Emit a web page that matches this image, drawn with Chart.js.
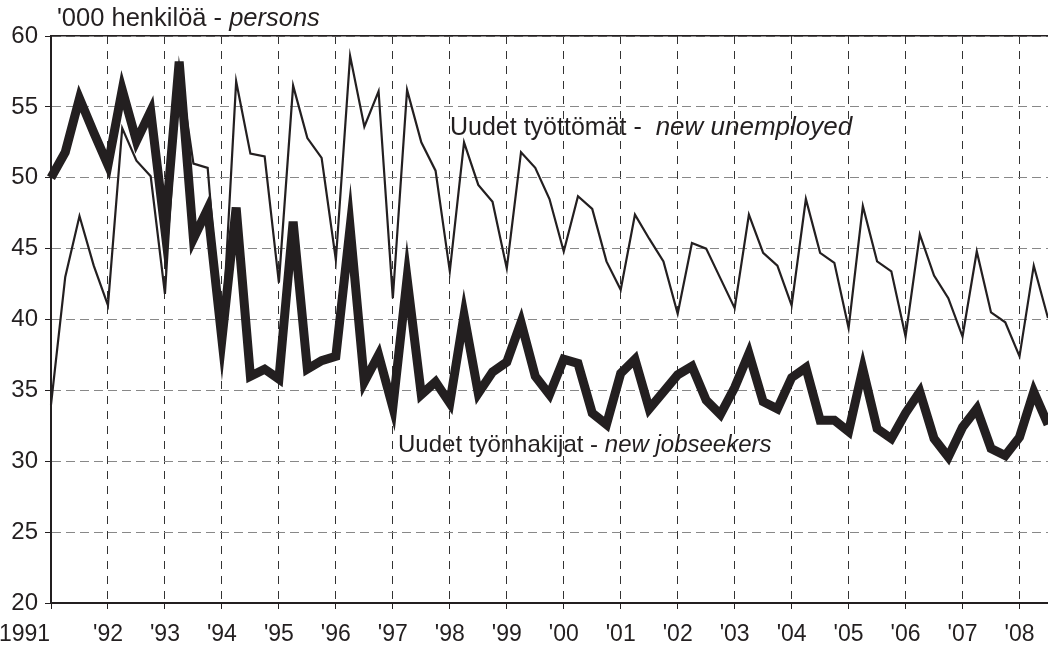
<!DOCTYPE html>
<html>
<head>
<meta charset="utf-8">
<script src="https://cdn.jsdelivr.net/npm/chart.js@4/dist/chart.umd.min.js"></script>
<style>
html,body{margin:0;padding:0;background:#fff;}
#wrap{width:1048px;height:646px;}
</style>
</head>
<body>
<div id="wrap"><canvas id="kuva" width="1048" height="646"></canvas></div>
<script>
// neljännesvuosittain, 1991 Q1 - 2008 Q3
const startYear = 1991;
const years = [1991,1992,1993,1994,1995,1996,1997,1998,1999,2000,2001,2002,2003,2004,2005,2006,2007,2008];
const tickLabels = ["1991","'92","'93","'94","'95","'96","'97","'98","'99","'00","'01","'02","'03","'04","'05","'06","'07","'08"];

const uudetTyottomat = [
34.0,43.0,47.3,43.8, 41.0,53.5,51.2,50.1, 41.8,57.9,51.0,50.7, 38.5,56.8,51.7,51.5,
42.6,56.5,52.8,51.4, 44.2,58.6,53.6,56.1, 41.5,56.2,52.5,50.5, 43.4,52.5,49.5,48.3,
43.6,51.8,50.7,48.5, 44.8,48.7,47.8,44.1, 42.1,47.4,45.7,44.1, 40.4,45.4,45.0,42.9,
40.8,47.4,44.7,43.8, 41.0,48.5,44.7,44.0, 39.4,48.0,44.1,43.4, 38.8,46.0,43.1,41.5,
38.8,44.8,40.5,39.8, 37.4,43.8,40.1
];
const uudetTyonhakijat = [
50.0,51.8,55.6,53.2, 50.9,56.2,52.6,54.7, 46.3,58.2,45.7,47.8, 38.6,47.9,36.0,36.5,
35.8,46.9,36.5,37.1, 37.4,46.5,35.6,37.5, 33.8,42.9,34.7,35.6, 34.1,40.3,34.8,36.3,
37.0,39.8,36.0,34.7, 37.2,36.9,33.4,32.6, 36.2,37.2,33.7,34.9, 36.1,36.7,34.3,33.3,
35.2,37.6,34.2,33.7, 35.9,36.6,32.9,32.9, 32.1,36.5,32.3,31.6, 33.4,34.9,31.6,30.3,
32.4,33.7,30.9,30.4, 31.7,34.9,32.6
];

const musta = "#231f20";
const fontti = "'Liberation Sans', Arial, sans-serif";
const pts = arr => arr.map((v,i)=>({x:startYear+i/4, y:v}));
const xMax = startYear + (uudetTyottomat.length-1)/4;

// tekstit: otsikko, sarjojen nimet ja vuosiluvut
const tekstit = {
  id:"tekstit",
  afterDraw(chart){
    const ctx = chart.ctx, x = chart.scales.x;
    ctx.save();
    ctx.fillStyle = musta;
    ctx.textBaseline = "middle";
    const rivi = (px, py, osat) => {
      osat.forEach(([t, kursiivi, koko]) => {
        ctx.font = (kursiivi ? "italic " : "") + koko + "px " + fontti;
        ctx.textAlign = "left";
        ctx.fillText(t, px, py);
        px += ctx.measureText(t).width;
      });
    };
    rivi(57, 19, [["'000 henkilöä - ", false, 25.5], ["persons", true, 25.5]]);
    rivi(450, 128, [["Uudet työttömät -  ", false, 25], ["new unemployed", true, 26]]);
    rivi(398, 445, [["Uudet työnhakijat - ", false, 24], ["new jobseekers", true, 24]]);

    ctx.font = "23px " + fontti;
    years.forEach((yr, i) => {
      if (i === 0) { ctx.textAlign = "left"; ctx.fillText(tickLabels[i], -1, 635); return; }
      ctx.textAlign = "center";
      ctx.fillText(tickLabels[i], x.getPixelForValue(yr), 635);
    });
    ctx.restore();
  }
};

new Chart(document.getElementById("kuva"), {
  type:"line",
  data:{
    datasets:[
      {label:"Uudet työnhakijat", data:pts(uudetTyonhakijat), borderColor:musta, borderWidth:9,
       pointRadius:0, tension:0, borderJoinStyle:"miter", clip:false},
      {label:"Uudet työttömät", data:pts(uudetTyottomat), borderColor:musta, borderWidth:2.2,
       pointRadius:0, tension:0, borderJoinStyle:"miter", clip:false}
    ]
  },
  options:{
    responsive:false,
    animation:false,
    devicePixelRatio:1,
    layout:{padding:{top:36, right:0, bottom:0, left:0}},
    plugins:{legend:{display:false}, tooltip:{enabled:false}},
    scales:{
      x:{
        type:"linear", position:"bottom", min:startYear, max:xMax,
        afterFit(s){ s.height = 43; },
        ticks:{stepSize:1, includeBounds:false, display:false},
        grid:{color:"#333", lineWidth:1, tickLength:6, tickColor:musta},
        border:{color:musta, width:2, dash:[8,7]}
      },
      x2:{
        type:"linear", position:"top", min:startYear, max:xMax,
        afterFit(s){ s.height = 0; },
        ticks:{display:false},
        grid:{display:false},
        border:{color:musta, width:1.5}
      },
      y:{
        min:20, max:60,
        afterFit(s){ s.width = 51; },
        ticks:{stepSize:5, color:musta, padding:7, font:{family:fontti, size:24}},
        grid:{color:"#888", lineWidth:1, tickLength:6, tickColor:musta},
        border:{color:musta, width:2, dash:[9,5]}
      }
    }
  },
  plugins:[tekstit]
});
</script>
</body>
</html>
